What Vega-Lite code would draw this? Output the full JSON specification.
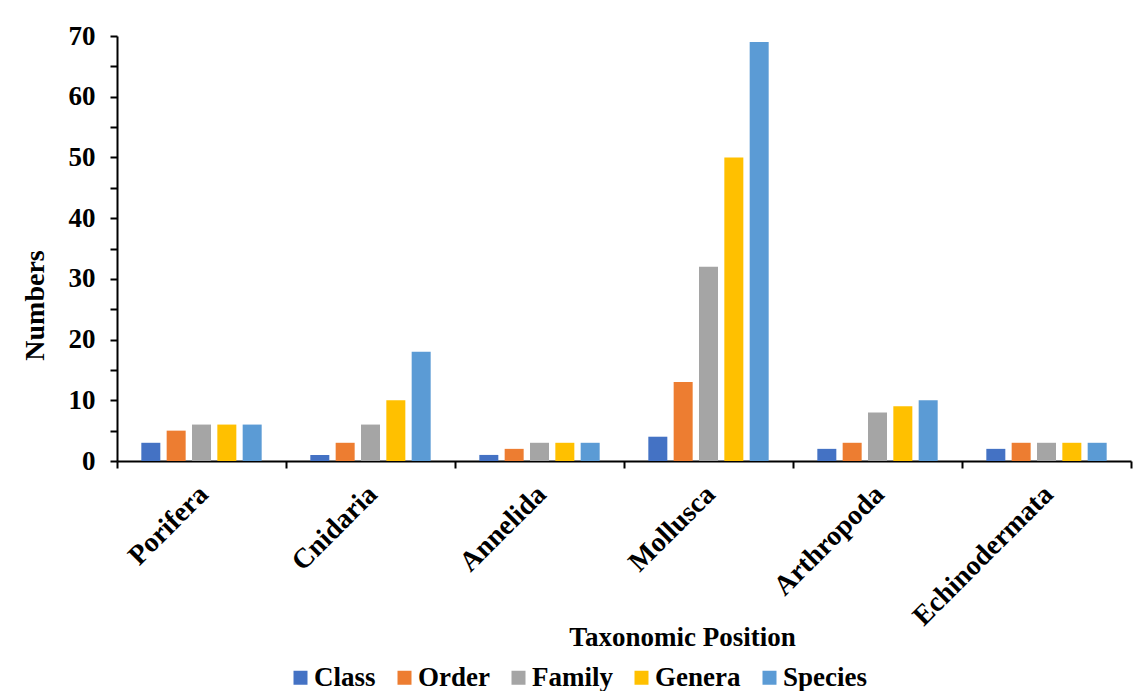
{
  "$schema": "https://vega.github.io/schema/vega-lite/v6.json",
  "autosize": {"type": "none"},
  "width": 1014,
  "height": 425,
  "padding": {"left": 117, "top": 36, "right": 4, "bottom": 230},
  "background": "white",
  "config": {
    "view": {"stroke": null},
    "font": "Liberation Serif"
  },
  "data": {
    "values": [
      {"phylum": "Porifera", "rank": "Class", "n": 3},
      {"phylum": "Porifera", "rank": "Order", "n": 5},
      {"phylum": "Porifera", "rank": "Family", "n": 6},
      {"phylum": "Porifera", "rank": "Genera", "n": 6},
      {"phylum": "Porifera", "rank": "Species", "n": 6},
      {"phylum": "Cnidaria", "rank": "Class", "n": 1},
      {"phylum": "Cnidaria", "rank": "Order", "n": 3},
      {"phylum": "Cnidaria", "rank": "Family", "n": 6},
      {"phylum": "Cnidaria", "rank": "Genera", "n": 10},
      {"phylum": "Cnidaria", "rank": "Species", "n": 18},
      {"phylum": "Annelida", "rank": "Class", "n": 1},
      {"phylum": "Annelida", "rank": "Order", "n": 2},
      {"phylum": "Annelida", "rank": "Family", "n": 3},
      {"phylum": "Annelida", "rank": "Genera", "n": 3},
      {"phylum": "Annelida", "rank": "Species", "n": 3},
      {"phylum": "Mollusca", "rank": "Class", "n": 4},
      {"phylum": "Mollusca", "rank": "Order", "n": 13},
      {"phylum": "Mollusca", "rank": "Family", "n": 32},
      {"phylum": "Mollusca", "rank": "Genera", "n": 50},
      {"phylum": "Mollusca", "rank": "Species", "n": 69},
      {"phylum": "Arthropoda", "rank": "Class", "n": 2},
      {"phylum": "Arthropoda", "rank": "Order", "n": 3},
      {"phylum": "Arthropoda", "rank": "Family", "n": 8},
      {"phylum": "Arthropoda", "rank": "Genera", "n": 9},
      {"phylum": "Arthropoda", "rank": "Species", "n": 10},
      {"phylum": "Echinodermata", "rank": "Class", "n": 2},
      {"phylum": "Echinodermata", "rank": "Order", "n": 3},
      {"phylum": "Echinodermata", "rank": "Family", "n": 3},
      {"phylum": "Echinodermata", "rank": "Genera", "n": 3},
      {"phylum": "Echinodermata", "rank": "Species", "n": 3}
    ]
  },
  "mark": {"type": "bar"},
  "encoding": {
    "x": {
      "field": "phylum",
      "type": "nominal",
      "sort": ["Porifera", "Cnidaria", "Annelida", "Mollusca", "Arthropoda", "Echinodermata"],
      "scale": {"paddingInner": 0, "paddingOuter": 0},
      "axis": {
        "title": "Taxonomic Position",
        "titleFont": "Liberation Serif",
        "titleFontWeight": "bold",
        "titleFontSize": 27,
        "titleColor": "black",
        "titleX": 565,
        "titleY": 184,
        "titleBaseline": "alphabetic",
        "labelAngle": -45,
        "labelFont": "Liberation Serif",
        "labelFontWeight": "bold",
        "labelFontSize": 28,
        "labelColor": "black",
        "labelPadding": 12,
        "labelOffset": -8,
        "labelLimit": 0,
        "labelOverlap": false,
        "tickBand": "extent",
        "tickColor": "black",
        "tickWidth": 2,
        "tickSize": 7,
        "domainColor": "black",
        "domainWidth": 2
      }
    },
    "xOffset": {
      "field": "rank",
      "type": "nominal",
      "sort": ["Class", "Order", "Family", "Genera", "Species"],
      "scale": {"paddingInner": 0.25, "paddingOuter": 0.96}
    },
    "y": {
      "field": "n",
      "type": "quantitative",
      "scale": {"domain": [0, 70], "nice": false},
      "axis": {
        "title": "Numbers",
        "titleFont": "Liberation Serif",
        "titleFontWeight": "bold",
        "titleFontSize": 28,
        "titleColor": "black",
        "titleX": -82,
        "titleY": 269,
        "titleAngle": -90,
        "titleAlign": "center",
        "titleBaseline": "middle",
        "values": [0, 5, 10, 15, 20, 25, 30, 35, 40, 45, 50, 55, 60, 65, 70],
        "labelExpr": "datum.value % 10 === 0 ? datum.label : ''",
        "labelFont": "Liberation Serif",
        "labelFontWeight": "bold",
        "labelFontSize": 27,
        "labelColor": "black",
        "labelPadding": 15,
        "grid": false,
        "tickColor": "black",
        "tickWidth": 2,
        "tickSize": 7,
        "domainColor": "black",
        "domainWidth": 2
      }
    },
    "color": {
      "field": "rank",
      "type": "nominal",
      "sort": ["Class", "Order", "Family", "Genera", "Species"],
      "scale": {
        "domain": ["Class", "Order", "Family", "Genera", "Species"],
        "range": ["#4472C4", "#ED7D31", "#A5A5A5", "#FFC000", "#5B9BD5"]
      },
      "legend": {
        "title": null,
        "orient": "none",
        "direction": "horizontal",
        "columns": 5,
        "legendX": 170,
        "legendY": 628,
        "symbolType": "square",
        "symbolSize": 196,
        "symbolStrokeWidth": 0,
        "symbolOpacity": 1,
        "labelFont": "Liberation Serif",
        "labelFontWeight": "bold",
        "labelFontSize": 27,
        "labelColor": "black",
        "labelOffset": 0,
        "columnPadding": 15
      }
    }
  }
}
